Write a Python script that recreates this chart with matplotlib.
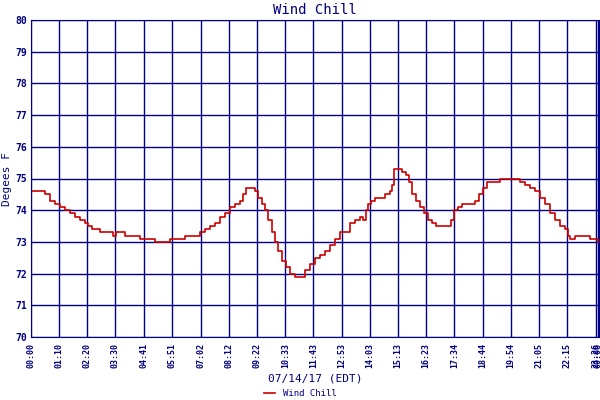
import matplotlib
matplotlib.use("Agg")
import matplotlib.pyplot as plt

# minutes after midnight, wind chill (F)
minutes = [0, 22, 35, 47, 60, 72, 85, 97, 110, 122, 134, 142, 152, 172, 197, 204,
           212, 222, 234, 259, 271, 296, 309, 321, 334, 346, 371, 383, 408, 421,
           433, 446, 458, 470, 483, 495, 508, 520, 528, 535, 545, 558, 565, 575,
           582, 590, 600, 607, 615, 625, 635, 645, 657, 670, 682, 694, 707, 719,
           732, 744, 757, 769, 782, 794, 806, 819, 826, 834, 839, 846, 856, 869,
           881, 894, 899, 904, 914, 923, 933, 941, 948, 958, 968, 978, 988, 998,
           1008, 1038, 1045, 1053, 1063, 1073, 1093, 1105, 1115, 1125, 1135, 1160,
           1167, 1197, 1210, 1217, 1230, 1242, 1255, 1267, 1279, 1292, 1304, 1317,
           1329, 1337, 1342, 1354, 1379, 1391, 1404, 1411]
chill = [74.6, 74.6, 74.5, 74.3, 74.2, 74.1, 74.0, 73.9, 73.8, 73.7, 73.6, 73.5,
         73.4, 73.3, 73.3, 73.2, 73.3, 73.3, 73.2, 73.2, 73.1, 73.1, 73.0, 73.0,
         73.0, 73.1, 73.1, 73.2, 73.2, 73.3, 73.4, 73.5, 73.6, 73.8, 73.9, 74.1,
         74.2, 74.3, 74.5, 74.7, 74.7, 74.6, 74.4, 74.2, 74.0, 73.7, 73.3, 73.0,
         72.7, 72.4, 72.2, 72.0, 71.9, 71.9, 72.1, 72.3, 72.5, 72.6, 72.7, 72.9,
         73.1, 73.3, 73.3, 73.6, 73.7, 73.8, 73.7, 74.0, 74.2, 74.3, 74.4, 74.4,
         74.5, 74.6, 74.8, 75.3, 75.3, 75.2, 75.1, 74.9, 74.5, 74.3, 74.1, 73.9,
         73.7, 73.6, 73.5, 73.5, 73.7, 74.0, 74.1, 74.2, 74.2, 74.3, 74.5, 74.7,
         74.9, 74.9, 75.0, 75.0, 75.0, 74.9, 74.8, 74.7, 74.6, 74.4, 74.2, 73.9,
         73.7, 73.5, 73.4, 73.2, 73.1, 73.2, 73.2, 73.1, 73.1, 73.0]

tick_pos = [0, 70, 140, 210, 281, 351, 422, 492, 562, 633, 703, 773, 843, 913,
            983, 1054, 1124, 1194, 1265, 1335, 1406, 1411]
tick_labels = ["00:00", "01:10", "02:20", "03:30", "04:41", "05:51", "07:02",
               "08:12", "09:22", "10:33", "11:43", "12:53", "14:03", "15:13",
               "16:23", "17:34", "18:44", "19:54", "21:05", "22:15", "23:26",
               "00:06"]

navy = "#000080"
plt.rcParams["font.family"] = "DejaVu Sans Mono"

fig = plt.figure(figsize=(6, 4), dpi=100)
ax = fig.add_axes([31 / 600, 63 / 400, 568 / 600, 317 / 400])

ax.plot(minutes, chill, color="#cc0000", lw=1.2, drawstyle="steps-post",
        label="Wind Chill")

ax.set_xlim(0, 1414)
ax.set_ylim(70, 80)
ax.set_yticks(range(70, 81))
ax.set_xticks(tick_pos)
ax.set_xticklabels(tick_labels, rotation=90, fontsize=6, color=navy, fontweight="bold")
ax.tick_params(axis="y", labelsize=7, labelcolor=navy, length=0, pad=3)
ax.tick_params(axis="x", length=0, pad=4)
for t in ax.get_yticklabels():
    t.set_fontweight("bold")
ax.grid(True, color=navy, lw=1)
for s in ax.spines.values():
    s.set_color(navy)

ax.set_title("Wind Chill", color=navy, fontsize=10, pad=4)
ax.set_ylabel("Degees F", color=navy, fontsize=8, labelpad=2)
ax.set_xlabel("07/14/17 (EDT)", color=navy, fontsize=8, labelpad=4)

fig.legend(loc="lower center", bbox_to_anchor=(0.5, -0.015), frameon=False,
           fontsize=6.5, handlelength=1.3, labelcolor=navy)

fig.savefig("out.png", dpi=100)
